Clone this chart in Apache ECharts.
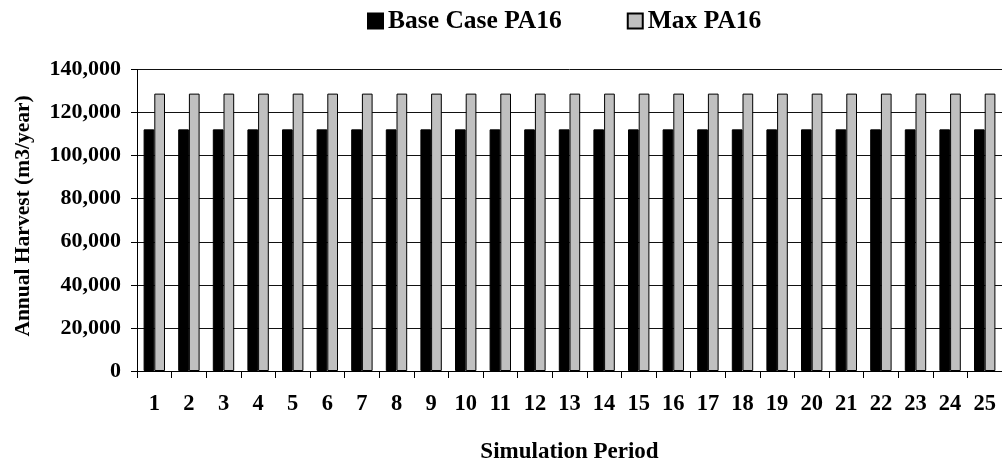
<!DOCTYPE html>
<html>
<head>
<meta charset="utf-8">
<script src="https://cdn.jsdelivr.net/npm/echarts@6/dist/echarts.min.js"></script>
<style>
  html, body { margin: 0; padding: 0; background: #fff; }
  #chart { width: 1002px; height: 469px; }
</style>
</head>
<body>
<div id="chart"></div>
<script>
// Simulation periods 1..25
const periods = ['1','2','3','4','5','6','7','8','9','10','11','12','13','14','15','16','17','18','19','20','21','22','23','24','25'];

// Annual harvest (m3/year) per period
const baseCasePA16 = [112200,112200,112200,112200,112200,112200,112200,112200,112200,112200,112200,112200,112200,112200,112200,112200,112200,112200,112200,112200,112200,112200,112200,112200,112200];
const maxPA16      = [128800,128800,128800,128800,128800,128800,128800,128800,128800,128800,128800,128800,128800,128800,128800,128800,128800,128800,128800,128800,128800,128800,128800,128800,128800];

// Value axis ticks
const yMin = 0, yMax = 140000, yStep = 20000;

const serif = "'Liberation Serif', 'Times New Roman', serif";

const chart = echarts.init(document.getElementById('chart'), null, { renderer: 'canvas' });

chart.setOption({
  animation: false,
  backgroundColor: '#ffffff',
  legend: {
    left: 362,
    top: 3,
    itemWidth: 15,
    itemHeight: 15,
    itemGap: 65,
    icon: 'rect',
    textStyle: { fontFamily: serif, fontWeight: 'bold', fontSize: 25.5, color: '#000' },
    data: ['Base Case PA16', 'Max PA16']
  },
  // the last period runs slightly past the right edge of the canvas
  grid: { left: 137, top: 69.5, right: -8, bottom: 81.5, containLabel: false },
  xAxis: {
    type: 'category',
    data: periods,
    name: 'Simulation Period',
    nameLocation: 'middle',
    nameGap: 70,
    nameTextStyle: { fontFamily: serif, fontWeight: 'bold', fontSize: 23, color: '#000' },
    axisLine: { lineStyle: { color: '#000', width: 1 } },
    axisTick: { show: true, length: 7, lineStyle: { color: '#000' } },
    axisLabel: { fontFamily: serif, fontWeight: 'bold', fontSize: 22.5, color: '#000', margin: 22, interval: 0 },
    splitLine: { show: false }
  },
  yAxis: {
    type: 'value',
    min: yMin,
    max: yMax,
    interval: yStep,
    axisLine: { show: true, lineStyle: { color: '#000', width: 1 } },
    axisTick: { show: true, length: 6, lineStyle: { color: '#000' } },
    axisLabel: {
      fontFamily: serif, fontWeight: 'bold', fontSize: 22, color: '#000', margin: 16,
      formatter: v => v.toLocaleString('en-US')
    },
    splitLine: { show: true, lineStyle: { color: '#111', width: 1 } }
  },
  graphic: [{
    type: 'text',
    x: 23,
    y: 216,
    rotation: Math.PI / 2,
    style: {
      text: 'Annual Harvest (m3/year)',
      font: "bold 21.5px 'Liberation Serif', 'Times New Roman', serif",
      fill: '#000',
      align: 'center',
      verticalAlign: 'middle'
    }
  }],
  series: [
    {
      name: 'Base Case PA16',
      type: 'bar',
      data: baseCasePA16,
      barWidth: 10.7,
      barGap: '0%',
      itemStyle: { color: '#000000', borderColor: '#000000', borderWidth: 1 }
    },
    {
      name: 'Max PA16',
      type: 'bar',
      data: maxPA16,
      barWidth: 10.7,
      barGap: '0%',
      itemStyle: { color: '#c0c0c0', borderColor: '#000000', borderWidth: 1 }
    }
  ]
});
</script>
</body>
</html>
